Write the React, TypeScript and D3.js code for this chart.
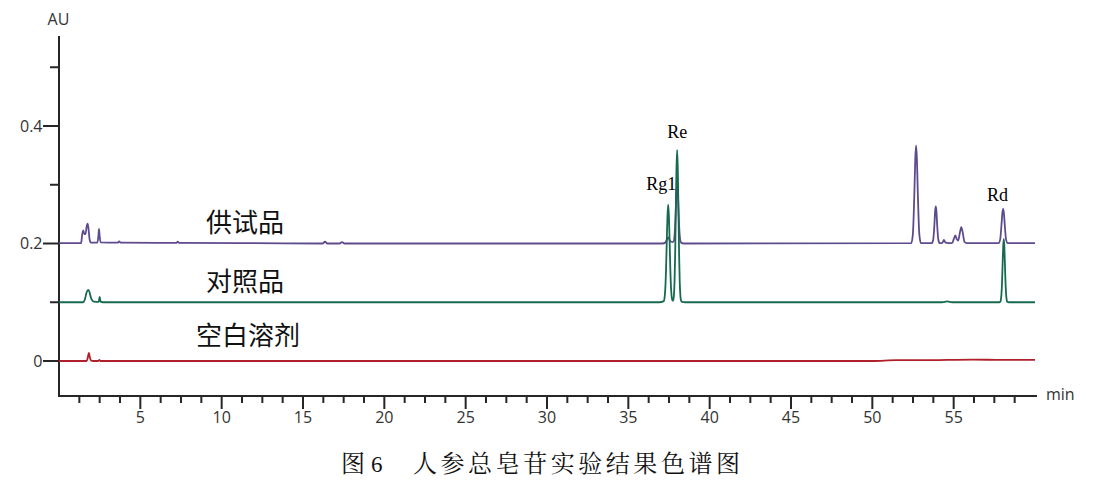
import React from "react";
import * as d3 from "d3";

// ---- data (minutes, AU) ----
const SAMPLE: [number, number][] = [
  [0, 0.2005], [1.36, 0.2005], [1.42, 0.214], [1.49, 0.2225], [1.56, 0.216], [1.63, 0.216],
  [1.7, 0.229], [1.76, 0.234], [1.82, 0.224], [1.88, 0.207], [1.96, 0.2015], [2.36, 0.2015],
  [2.42, 0.212], [2.46, 0.225], [2.5, 0.212], [2.56, 0.202], [3.6, 0.2015], [3.7, 0.2035],
  [3.8, 0.2015], [7.2, 0.201], [7.3, 0.203], [7.4, 0.201], [12, 0.2005], [16.2, 0.2],
  [16.35, 0.203], [16.5, 0.2], [17.25, 0.2], [17.4, 0.2025], [17.55, 0.2], [37.1, 0.2],
  [37.27, 0.2015], [37.36, 0.206], [37.45, 0.2105], [37.54, 0.206], [37.63, 0.203],
  [37.72, 0.2025], [37.8, 0.2045], [37.84, 0.2135], [37.88, 0.232], [37.92, 0.261],
  [37.96, 0.288], [38.0, 0.3], [38.04, 0.288], [38.08, 0.261], [38.12, 0.232], [38.16, 0.2135],
  [38.2, 0.2045], [38.26, 0.201], [38.4, 0.2], [52.39, 0.2005], [52.49, 0.215], [52.59, 0.292],
  [52.64, 0.344], [52.69, 0.367], [52.74, 0.344], [52.79, 0.292], [52.89, 0.215], [52.99, 0.2005],
  [53.65, 0.2005], [53.74, 0.206], [53.82, 0.234], [53.86, 0.255], [53.9, 0.263], [53.94, 0.255],
  [53.98, 0.234], [54.06, 0.206], [54.15, 0.2005], [54.3, 0.201], [54.4, 0.206], [54.5, 0.2015],
  [54.9, 0.2005], [55.0, 0.207], [55.1, 0.214], [55.2, 0.207], [55.28, 0.205], [55.38, 0.218],
  [55.47, 0.228], [55.56, 0.218], [55.66, 0.203], [55.8, 0.2005], [57.76, 0.2005], [57.86, 0.207],
  [57.94, 0.232], [57.99, 0.251], [58.04, 0.259], [58.09, 0.251], [58.14, 0.232], [58.22, 0.207],
  [58.32, 0.2005], [60, 0.2005],
];

const STANDARD: [number, number][] = [
  [0, 0.1], [1.5, 0.1], [1.6, 0.106], [1.7, 0.117], [1.8, 0.121], [1.88, 0.117], [1.96, 0.108],
  [2.05, 0.103], [2.15, 0.101], [2.44, 0.1005], [2.5, 0.109], [2.56, 0.101], [2.7, 0.1],
  [36.9, 0.1], [37.18, 0.102], [37.225, 0.107], [37.27, 0.122], [37.315, 0.153], [37.36, 0.201],
  [37.405, 0.246], [37.45, 0.266], [37.495, 0.246], [37.54, 0.201], [37.585, 0.153], [37.63, 0.122],
  [37.675, 0.107], [37.72, 0.103], [37.76, 0.103], [37.8, 0.111], [37.84, 0.135], [37.88, 0.183],
  [37.92, 0.258], [37.96, 0.328], [38.0, 0.359], [38.04, 0.328], [38.08, 0.258], [38.12, 0.183],
  [38.16, 0.135], [38.2, 0.111], [38.24, 0.103], [38.3, 0.1005], [38.5, 0.1], [54.3, 0.1],
  [54.6, 0.1015], [54.9, 0.1], [57.8, 0.1], [57.87, 0.101], [57.905, 0.105], [57.94, 0.115],
  [57.975, 0.135], [58.01, 0.166], [58.045, 0.195], [58.08, 0.208], [58.115, 0.195], [58.15, 0.166],
  [58.185, 0.135], [58.22, 0.115], [58.255, 0.105], [58.29, 0.101], [58.4, 0.1], [60, 0.1],
];

const BLANK: [number, number][] = [
  [0, 0], [1.7, 0], [1.77, 0.006], [1.84, 0.014], [1.9, 0.006], [1.97, 0.001], [2.1, 0],
  [2.42, 0], [2.48, 0.002], [2.54, 0], [50, 0], [51.5, 0.0015], [53, 0.0015], [56.2, 0.0025],
  [58, 0.0018], [60, 0.002],
];

const SERIES_NAMES = ["供试品", "对照品", "空白溶剂"];
const SERIES_BASES = [0.2, 0.1, 0];
const PEAK_LABELS = ["Rg1", "Re", "Rd"];
const PEAK_TIMES = [37.45, 38.0, 58.04];
const PEAK_TOPS = [0.266, 0.359, 0.259];
const Y_TICKS = [0, 0.1, 0.2, 0.3, 0.4, 0.5];
const Y_LABELED = [0, 0.2, 0.4];
const X_MAJOR = [5, 10, 15, 20, 25, 30, 35, 40, 45, 50, 55];
const X_MINOR_STEP = 1.25;
const CAPTION_NUM = "图";
const CAPTION_IDX = "6";
const CAPTION_TEXT = "人参总皂苷实验结果色谱图";

// ---- layout ----
const W = 1101, H = 489;
const X0 = 59, X1 = 1035, AXIS_END = 1037;
const Y_BOTTOM = 396, Y_TOP = 36;
const COLORS = ["#5f4a8e", "#17694f", "#b0202a"];
const AXIS_COLOR = "#262626";
const TEXT_COLOR = "#333";
const SANS = '"Open Sans", "Noto Sans", sans-serif';
const CJK = '"Noto Sans CJK SC", sans-serif';

export default function App() {
  const x = d3.scaleLinear().domain([0, 60]).range([X0, X1]);
  const y = d3.scaleLinear().domain([0, 0.4]).range([361, 126]);
  const line = d3
    .line<[number, number]>()
    .x((d) => x(d[0]))
    .y((d) => y(d[1]))
    .curve(d3.curveMonotoneX);

  const minor = d3.range(X_MINOR_STEP, 60, X_MINOR_STEP).filter(
    (t) => !X_MAJOR.some((m) => Math.abs(m - t) < 1e-6)
  );
  const series = [SAMPLE, STANDARD, BLANK];
  const drawOrder = [2, 0, 1];
  const nameX = [206, 206, 196];
  const nameDy = [-12, -11, -16];
  const peakAnchor = ["end", "middle", "middle"];
  const peakDx = [8, 0, -5.5];
  const peakDy = [-15, -12.5, -8];

  return (
    <svg
      width={W}
      height={H}
      style={{ position: "absolute", left: 0, top: 0, background: "#fff" }}
    >
      <rect width={W} height={H} fill="#fff" />
      {/* axes */}
      <line x1={X0} x2={X0} y1={Y_TOP} y2={Y_BOTTOM} stroke={AXIS_COLOR} strokeWidth={2} />
      <line x1={X0 - 1} x2={AXIS_END} y1={Y_BOTTOM} y2={Y_BOTTOM} stroke={AXIS_COLOR} strokeWidth={2} />
      {Y_TICKS.map((v) => {
        const lab = Y_LABELED.includes(v);
        return (
          <g key={"y" + v}>
            <line x1={lab ? 43 : 50} x2={X0} y1={y(v)} y2={y(v)} stroke={AXIS_COLOR} strokeWidth={2} />
            {lab && (
              <text x={42.5} y={y(v) + 5.5} textAnchor="end" fontFamily={SANS} fontSize={16} fill={TEXT_COLOR}>
                {String(v)}
              </text>
            )}
          </g>
        );
      })}
      <text x={58.5} y={25} textAnchor="middle" fontFamily={SANS} fontSize={16} fill={TEXT_COLOR}>
        AU
      </text>
      {minor.map((t) => (
        <line key={"m" + t} x1={x(t)} x2={x(t)} y1={Y_BOTTOM} y2={Y_BOTTOM + 7} stroke={AXIS_COLOR} strokeWidth={2} />
      ))}
      {X_MAJOR.map((t) => (
        <g key={"M" + t}>
          <line x1={x(t)} x2={x(t)} y1={Y_BOTTOM} y2={Y_BOTTOM + 13} stroke={AXIS_COLOR} strokeWidth={2} />
          <text x={x(t)} y={423} textAnchor="middle" fontFamily={SANS} fontSize={16} fill={TEXT_COLOR}>
            {String(t)}
          </text>
        </g>
      ))}
      <text x={1046} y={400} fontFamily={SANS} fontSize={16} fill={TEXT_COLOR}>
        min
      </text>

      {/* traces */}
      {drawOrder.map((i) => (
        <path key={"s" + i} d={line(series[i]) || ""} fill="none" stroke={COLORS[i]} strokeWidth={1.8} strokeLinejoin="round" />
      ))}

      {/* series names */}
      {SERIES_NAMES.map((n, i) => (
        <text key={"n" + i} x={nameX[i]} y={y(SERIES_BASES[i]) + nameDy[i]} fontFamily={CJK} fontSize={26} fill="#111">
          {n}
        </text>
      ))}

      {/* peak labels */}
      {PEAK_LABELS.map((p, i) => (
        <text
          key={"p" + i}
          x={x(PEAK_TIMES[i]) + peakDx[i]}
          y={y(PEAK_TOPS[i]) + peakDy[i]}
          textAnchor={peakAnchor[i] as any}
          fontFamily='"Liberation Serif", "Times New Roman", serif'
          fontSize={18}
          fill="#000"
        >
          {p}
        </text>
      ))}

      {/* caption */}
      <text x={341} y={472} fontFamily={'"Noto Serif CJK SC", ' + CJK} fontSize={24} fill="#111">
        {CAPTION_NUM}
      </text>
      <text x={371} y={472} fontFamily='"Liberation Serif", serif' fontSize={23} fill="#111">
        {CAPTION_IDX}
      </text>
      <text
        x={413}
        y={472}
        fontFamily={'"Noto Serif CJK SC", ' + CJK}
        fontSize={24}
        fill="#111"
        textLength={327}
        lengthAdjust="spacing"
      >
        {CAPTION_TEXT}
      </text>
    </svg>
  );
}
